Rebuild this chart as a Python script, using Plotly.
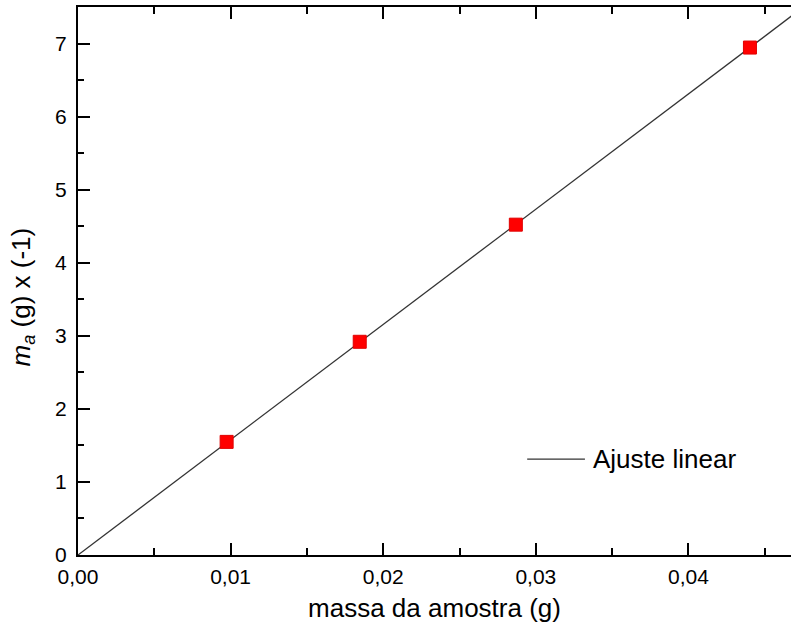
import numpy as np
import plotly.graph_objects as go

# data
massa_amostra = [0.00974, 0.01846, 0.02869, 0.04403]
ma_neg = [1.548, 2.918, 4.521, 6.945]
fit_x = [0.0, 0.0475]

xs = np.array(massa_amostra)
ys = np.array(ma_neg)
slope = float((xs * ys).sum() / (xs * xs).sum())
fit_y = [slope * v for v in fit_x]

FONT = "Liberation Sans, Arial, sans-serif"

fig = go.Figure()
fig.add_trace(go.Scatter(x=fit_x, y=fit_y, mode="lines",
                         line=dict(color="#333333", width=1.3),
                         name="Ajuste linear", showlegend=False, cliponaxis=True))
fig.add_trace(go.Scatter(x=massa_amostra, y=ma_neg, mode="markers",
                         marker=dict(symbol="square", size=13, color="#ff0000",
                                     line=dict(color="#e00000", width=1)),
                         showlegend=False))

fig.update_layout(
    width=791, height=635,
    margin=dict(l=78, r=0, t=7, b=80),
    paper_bgcolor="white", plot_bgcolor="white",
    separators=",.",
    font=dict(family=FONT, color="black", size=21),
    showlegend=False,
    xaxis=dict(range=[0, 0.04672], dtick=0.01, tick0=0, tickformat=".2f",
               showgrid=False, zeroline=False,
               showline=True, linecolor="black", linewidth=2, mirror="ticks",
               ticks="inside", ticklen=12, tickwidth=2, tickcolor="black",
               minor=dict(dtick=0.005, ticks="inside", ticklen=7, tickwidth=2, tickcolor="black"),
               tickfont=dict(size=21), ticklabelstandoff=2,
               title=dict(text="massa da amostra (g)", font=dict(size=26), standoff=12)),
    yaxis=dict(range=[0, 7.5], dtick=1, tick0=0,
               showgrid=False, zeroline=False,
               showline=True, linecolor="black", linewidth=2, mirror=False,
               ticks="inside", ticklen=12, tickwidth=2, tickcolor="black",
               minor=dict(dtick=0.5, ticks="inside", ticklen=6, tickwidth=2, tickcolor="black"),
               tickfont=dict(size=21), ticklabelstandoff=5),
    yaxis2=dict(range=[0, 7.5], dtick=1, tick0=0, overlaying="y", side="right", anchor="x",
                showgrid=False, zeroline=False, showline=False, showticklabels=False,
                ticks="inside", ticklen=3, tickwidth=2, tickcolor="black"),
)

# y-axis title
fig.add_annotation(text="<i>m</i><sub><i>a</i></sub> (g) x (-1)", xref="paper", yref="paper",
                   x=0, y=0.47, xshift=-56, textangle=-90, showarrow=False,
                   xanchor="center", yanchor="middle", font=dict(size=26))

# legend drawn by hand (longer sample line as in the reference)
fig.add_shape(type="line", xref="paper", yref="paper", x0=0.63, x1=0.711, y0=0.175, y1=0.175,
              line=dict(color="#333333", width=1.3))
fig.add_annotation(text="Ajuste linear", xref="paper", yref="paper", x=0.72, y=0.175,
                   xanchor="left", yanchor="middle", showarrow=False, font=dict(size=26))

fig.write_html("out.html")
